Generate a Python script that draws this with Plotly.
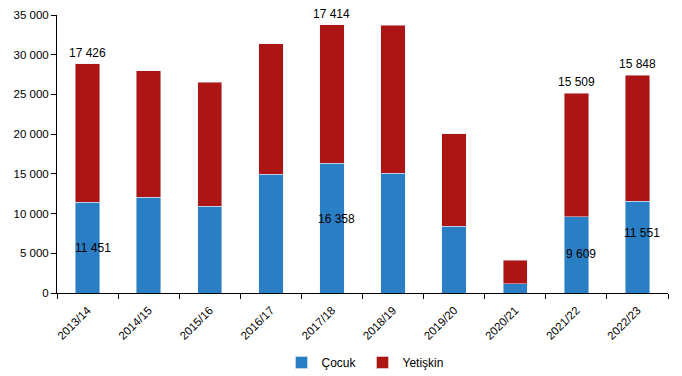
import plotly.graph_objects as go

categories = ["2013/14", "2014/15", "2015/16", "2016/17", "2017/18",
              "2018/19", "2019/20", "2020/21", "2021/22", "2022/23"]
cocuk = [11451, 12050, 10950, 14950, 16358, 15100, 8400, 1150, 9609, 11551]
yetiskin = [17426, 15950, 15600, 16450, 17414, 18600, 11650, 3000, 15509, 15848]
labeled = [True, False, False, False, True, False, False, False, True, True]
# pixel nudges of the Çocuk labels (style only)
cocuk_label_yshift = [0, 0, 0, 0, 9, 0, 0, 0, 1, 14]

def fmt(v):
    return f"{v:,}".replace(",", " ")

BLUE = "#2A7EC3"
RED = "#AD1414"
FONT = "Liberation Sans, Arial, sans-serif"

fig = go.Figure()
fig.add_trace(go.Bar(x=categories, y=cocuk, name="Çocuk", marker_color=BLUE))
fig.add_trace(go.Bar(x=categories, y=yetiskin, name="Yetişkin", marker_color=RED))

annotations = []
for i, cat in enumerate(categories):
    if not labeled[i]:
        continue
    annotations.append(dict(
        x=cat, y=cocuk[i] / 2, xref="x", yref="y", text=fmt(cocuk[i]),
        showarrow=False, xshift=5, yshift=cocuk_label_yshift[i],
        font=dict(size=12, color="black", family=FONT),
    ))
    annotations.append(dict(
        x=cat, y=cocuk[i] + yetiskin[i], xref="x", yref="y", text=fmt(yetiskin[i]),
        showarrow=False, yanchor="bottom", yshift=2,
        font=dict(size=12, color="black", family=FONT),
    ))

fig.update_layout(
    barmode="stack",
    bargap=0.6,
    width=682, height=376,
    margin=dict(l=57, r=14, t=15, b=83, autoexpand=False),
    paper_bgcolor="white", plot_bgcolor="white",
    separators=", ",
    font=dict(family=FONT, size=12, color="black"),
    annotations=annotations,
    legend=dict(orientation="h", x=0.5, xanchor="center", y=-0.25, yanchor="middle",
                font=dict(size=12, family=FONT), itemwidth=30,
                entrywidth=36, entrywidthmode="pixels", traceorder="normal"),
    xaxis=dict(
        showline=True, linecolor="black", linewidth=1,
        ticks="outside", tickson="boundaries", ticklen=5, tickcolor="black",
        tickangle=-45, tickfont=dict(size=11.5, family=FONT),
        ticklabelstandoff=5, automargin=False,
        showgrid=False,
    ),
    yaxis=dict(
        range=[0, 35000], dtick=5000, tickformat=",d",
        showline=True, linecolor="black", linewidth=1,
        ticks="outside", ticklen=5, tickcolor="black",
        tickfont=dict(size=11.5, family=FONT), automargin=False,
        showgrid=False, zeroline=False,
    ),
)

fig.write_html("out.html", config={"displayModeBar": False},
               post_script="document.body.style.margin='0';")
